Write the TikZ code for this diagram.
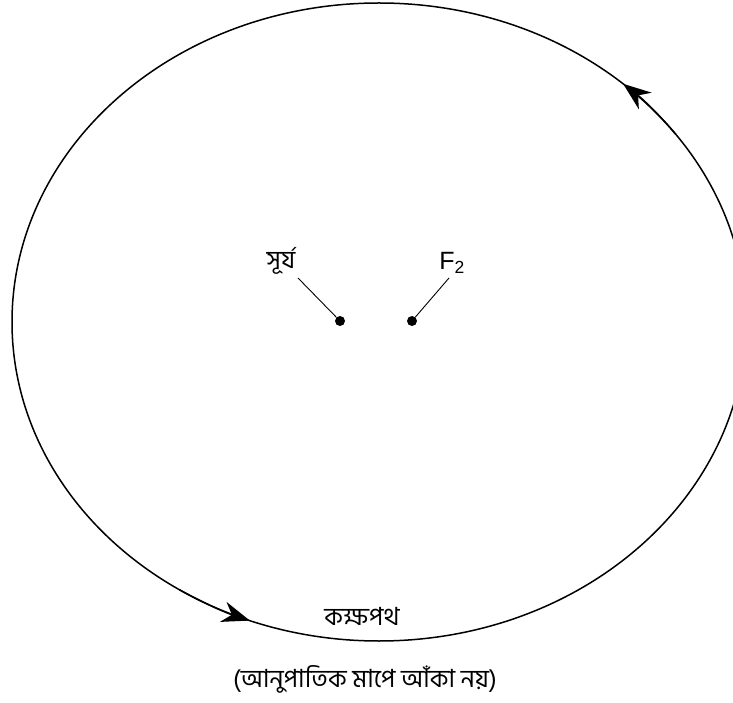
\documentclass[tikz,border=0pt]{standalone}
\usepackage{fontspec}
\setmainfont{Liberation Sans}
\newfontfamily\bngfont[Script=Bengali]{Hind Siliguri}
\usetikzlibrary{arrows.meta}

\begin{document}
\begin{tikzpicture}[x=1pt,y=1pt,
    focus/.style={circle, fill=black, inner sep=0pt, minimum size=10pt},
    latlabel/.style={font=\fontsize{25}{30}\selectfont, inner sep=0pt},
    bnlabel/.style={font=\bngfont\fontsize{25}{30}\selectfont, inner sep=0pt},
    orbit/.style={line width=1.5pt},
    pointer/.style={line width=0.9pt},
    >={Stealth[length=28pt,width=21pt]}
  ]
  \useasboundingbox (0,0) rectangle (733,702);
  \coordinate (centre) at (379,380);

  % orbit, cut off at the right edge
  \begin{scope}
    \clip (0,0) rectangle (733,702);
    \draw[orbit] (centre) ellipse [x radius=367pt, y radius=319pt];
  \end{scope}
  \draw[orbit,->] ([shift={(36:367pt and 319pt)}]centre)
    arc[start angle=36, end angle=48.3, x radius=367pt, y radius=319pt];
  \draw[orbit,->] ([shift={(237:367pt and 319pt)}]centre)
    arc[start angle=237, end angle=249.4, x radius=367pt, y radius=319pt];

  % foci
  \node[focus] (sun) at (340,381) {};
  \node[focus] (ftwo) at (412,381) {};
  \node[bnlabel] (sunlabel) at (281,441) {সূর্য};
  \node[latlabel] (ftwolabel) at (452,439) {F\textsubscript{2}};
  \coordinate (sunend) at (298,424);
  \coordinate (ftwoend) at (449,424);
  \draw[pointer] (sunend) -- (sun);
  \draw[pointer] (ftwoend) -- (ftwo);

  % texts
  \node[bnlabel] (orbitlabel) at (362,86) {কক্ষপথ};
  \node[bnlabel] (caption) at (365,23) {(আনুপাতিক মাপে আঁকা নয়)};
\end{tikzpicture}
\end{document}
